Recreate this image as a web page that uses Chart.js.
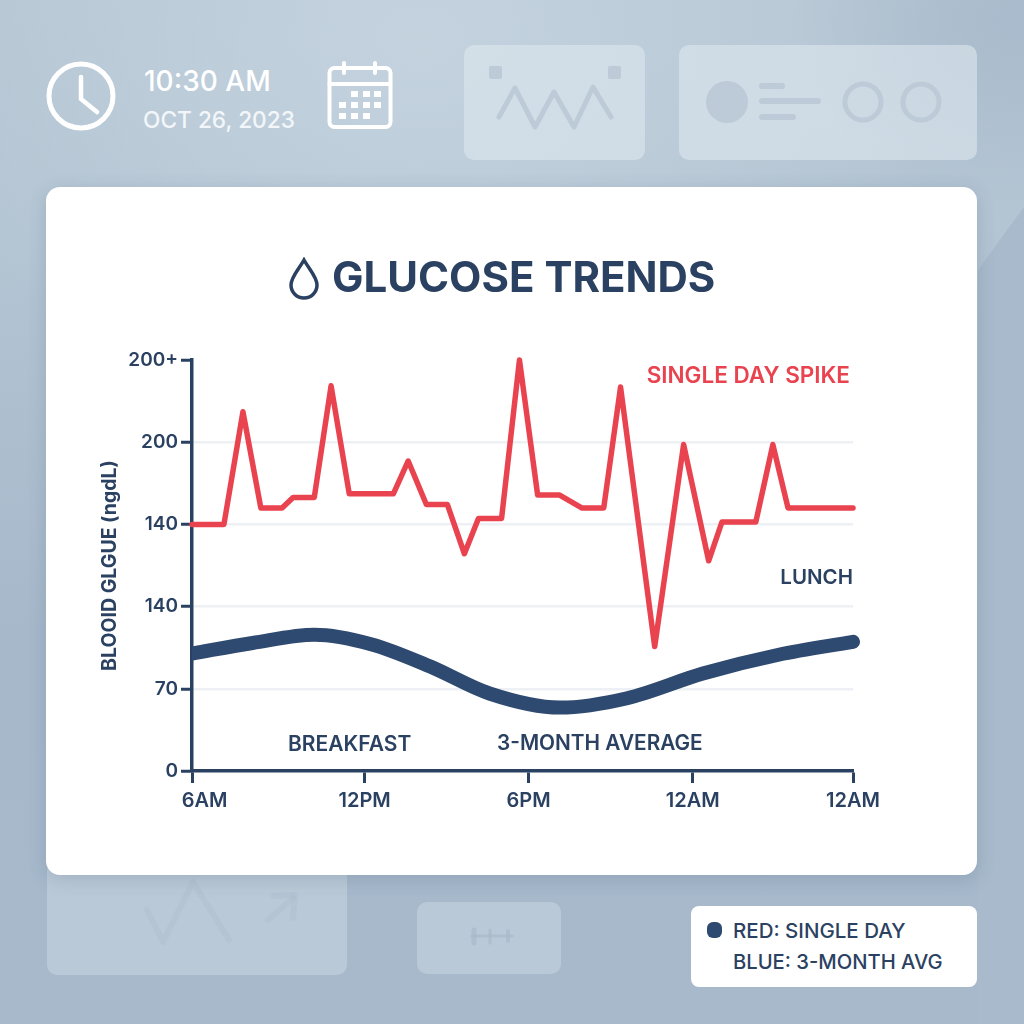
<!DOCTYPE html>
<html>
<head>
<meta charset="utf-8">
<title>Glucose Trends</title>
<script src="https://cdn.jsdelivr.net/npm/chart.js@4/dist/chart.umd.min.js"></script>
<style>
  html, body { margin: 0; padding: 0; }
  body {
    width: 1024px; height: 1024px; position: relative; overflow: hidden;
    font-family: Inter, "Noto Sans", sans-serif; color: #2b4162;
    background:
      radial-gradient(ellipse 230px 190px at 1024px 20px, rgba(166,184,202,.85), rgba(166,184,202,0)),
      radial-gradient(ellipse 520px 400px at 420px 40px, rgba(198,213,224,.85), rgba(198,213,224,0)),
      linear-gradient(180deg, #b6c6d4 0%, #b3c4d3 25%, #a6b8ca 62%, #a7b9cb 100%);
  }
  .abs { position: absolute; white-space: nowrap; }
  .panel { position: absolute; border-radius: 10px; }
  .top-panel { background: rgba(222,231,238,.6); }
  .low-panel { background: rgba(205,217,227,.5); }
  #card {
    position: absolute; left: 46px; top: 187px; width: 931px; height: 688px;
    background: #fff; border-radius: 14px; box-shadow: 0 4px 18px rgba(70,95,125,.22);
  }
  #chart { position: absolute; left: 0; top: 0; }
  .note { position: absolute; white-space: nowrap; font-weight: 600; line-height: 1; }
  #legend {
    position: absolute; left: 691px; top: 906px; width: 286px; height: 81px;
    background: #fff; border-radius: 8px;
  }
</style>
</head>
<body>
<svg class="abs" style="left:0;top:0" width="1024" height="1024">
  <polygon points="978,270 1024,207 1024,1024 978,1024" fill="#a8bacb"/>
</svg>

<!-- clock and date -->
<svg class="abs" style="left:44px;top:58px" width="76" height="76" fill="none" stroke="#fff" stroke-width="5" stroke-linecap="round">
  <circle cx="37" cy="38" r="32"/>
  <polyline points="37,19 37,41 53,54" stroke-width="4.5"/>
</svg>
<div class="abs" style="left:144px;top:64px;font-size:28px;font-weight:500;color:#fff">10:30 AM</div>
<div class="abs" style="left:143px;top:106px;font-size:22.700px;font-weight:500;color:#f3f6f9">OCT 26, 2023</div>
<svg class="abs" style="left:325px;top:60px" width="70" height="72" fill="none" stroke="#fff" stroke-width="4" stroke-linecap="round">
  <rect x="4.500" y="8" width="61" height="59" rx="5"/>
  <line x1="4.500" y1="24" x2="65" y2="24"/>
  <line x1="19" y1="3" x2="19" y2="13"/><line x1="50" y1="3" x2="50" y2="13"/>
  <g fill="#fff" stroke="none">
    <rect x="26" y="31" width="7" height="6"/><rect x="38" y="31" width="7" height="6"/><rect x="49" y="31" width="7" height="6"/>
    <rect x="14" y="42" width="7" height="6"/><rect x="26" y="42" width="7" height="6"/><rect x="38" y="42" width="7" height="6"/><rect x="49" y="42" width="7" height="6"/>
    <rect x="14" y="53" width="7" height="6"/><rect x="26" y="53" width="7" height="6"/><rect x="38" y="53" width="7" height="6"/>
  </g>
</svg>

<!-- faded panels behind the chart -->
<div class="panel top-panel" style="left:464px;top:45px;width:181px;height:115px"></div>
<div class="panel top-panel" style="left:679px;top:45px;width:298px;height:115px"></div>
<svg class="abs" style="left:0;top:0" width="1024" height="200" fill="none" stroke="#bccbd7" stroke-width="5" stroke-linecap="round" stroke-linejoin="round">
  <rect x="489" y="66" width="13" height="13" rx="2" fill="#bccbd7" stroke="none"/>
  <rect x="608" y="66" width="13" height="13" rx="2" fill="#bccbd7" stroke="none"/>
  <polyline points="499,117 515,88 535,127 554,92 574,127 593,87 611,117"/>
  <circle cx="727" cy="102" r="21" fill="#bccbd7" stroke="none"/>
  <line x1="762" y1="86" x2="782" y2="86" stroke-width="6"/>
  <line x1="762" y1="101" x2="818" y2="101" stroke-width="6"/>
  <line x1="762" y1="117" x2="793" y2="117" stroke-width="6"/>
  <circle cx="863" cy="102" r="18" stroke-width="5"/>
  <circle cx="921" cy="102" r="18" stroke-width="5"/>
</svg>
<div class="panel low-panel" style="left:47px;top:860px;width:300px;height:115px"></div>
<div class="panel low-panel" style="left:417px;top:902px;width:144px;height:72px"></div>
<svg class="abs" style="left:0;top:860px" width="1024" height="164" fill="none" stroke="#a6b8c9" stroke-width="6" stroke-linecap="round" stroke-linejoin="round">
  <polyline points="147,50 163,82 193,22 229,80" opacity="0.3"/>
  <polyline points="268,60 293,38" opacity="0.3"/>
  <polyline points="274,36 295,35 293,58" opacity="0.3"/>
  <line x1="472" y1="76" x2="512" y2="76" stroke-width="3" opacity="0.6"/>
  <line x1="474" y1="70" x2="474" y2="83" stroke-width="5" opacity="0.6"/>
  <line x1="490" y1="70" x2="490" y2="83" stroke-width="3" opacity="0.6"/>
  <line x1="508" y1="71" x2="508" y2="81" stroke-width="4" opacity="0.6"/>
</svg>

<div id="card">
  <canvas id="chart" width="931" height="688"></canvas>
  <svg class="abs" style="left:242px;top:70px" width="32" height="44" fill="none" stroke="#2b4162" stroke-width="3.500">
    <path d="M16 3 C 11 12, 3 20, 3 28 A 13 13 0 0 0 29 28 C 29 20, 21 12, 16 3 Z"/>
  </svg>
  <div class="note" id="title" style="left:286px;top:69px;font-size:42px;font-weight:700">GLUCOSE TRENDS</div>
  <div class="note" style="right:127px;top:177px;font-size:22.500px;color:#e9434f">SINGLE DAY SPIKE</div>
  <div class="note" style="right:124px;top:380px;font-size:20.500px">LUNCH</div>
  <div class="note" style="left:242px;top:546px;font-size:21px">BREAKFAST</div>
  <div class="note" style="left:451px;top:546px;font-size:20.800px">3-MONTH AVERAGE</div>
</div>

<div id="legend">
  <div class="abs" style="left:16px;top:16px;width:15px;height:16px;border-radius:6px;background:#2f4a70"></div>
</div>
<div class="note" id="legend1" style="left:733px;top:921px;font-size:20.500px;font-weight:500"></div>
<div class="note" id="legend2" style="left:733px;top:952px;font-size:20.200px;font-weight:500"></div>

<script>
// hours after 6AM on the x axis, values on the y axis (70 per labelled step)
var xTickHours = [0, 6.27, 12.22, 18.18, 24];
var xTickLabels = ['     6AM', '12PM', '6PM', '12AM', '12AM'];
var yTickLabels = ['0', '70', '140', '140', '200', '200+'];

var dayHours = [0, 1.16, 1.85, 2.5, 3.27, 3.67, 4.44, 5.05, 5.71, 7.31, 7.85, 8.51, 9.27, 9.89, 10.4,
  11.24, 11.89, 12.55, 13.35, 14.15, 14.95, 15.56, 16.8, 17.85, 18.76, 19.24, 20.47, 21.09, 21.64, 24];
var dayValues = [210, 210, 306, 224, 224, 233, 233, 328, 236, 236, 264, 227, 227, 185, 215,
  215, 350, 235, 235, 224, 224, 327, 106, 278, 179, 212, 212, 278, 224, 224];

var avgHours = [0, 2.2, 4.45, 6.5, 8.65, 10.8, 13.35, 15.8, 18.55, 21.3, 24];
var avgValues = [100, 109, 116, 108, 89, 66, 54, 62, 83, 99, 110];

var legendLabels = ['RED: SINGLE DAY', 'BLUE: 3-MONTH AVG'];

document.getElementById('legend1').textContent = legendLabels[0];
document.getElementById('legend2').textContent = legendLabels[1];

function toPoints(xs, ys) {
  return xs.map(function (x, i) { return { x: x, y: ys[i] }; });
}

var navy = '#2b4162';
var xTickFont = { family: 'Inter', size: 20, weight: '600' };
var yTickFont = { family: 'Inter', size: 19, weight: '600' };

new Chart(document.getElementById('chart'), {
  type: 'line',
  data: {
    datasets: [
      {
        label: 'Single day',
        data: toPoints(dayHours, dayValues),
        borderColor: '#e9434f',
        borderWidth: 5.5,
        borderJoinStyle: 'round',
        borderCapStyle: 'round',
        pointRadius: 0,
        tension: 0,
        clip: false
      },
      {
        label: '3-month average',
        data: toPoints(avgHours, avgValues),
        borderColor: '#2f4a70',
        borderWidth: 14,
        borderCapStyle: 'round',
        pointRadius: 0,
        cubicInterpolationMode: 'monotone',
        clip: { left: 0, top: false, right: false, bottom: false }
      }
    ]
  },
  options: {
    responsive: false,
    animation: false,
    layout: { padding: { left: 0, top: 173, right: 124, bottom: 0 } },
    plugins: { legend: { display: false }, tooltip: { enabled: false } },
    scales: {
      x: {
        type: 'linear',
        min: 0,
        max: 24,
        afterBuildTicks: function (axis) {
          axis.ticks = xTickHours.map(function (h) { return { value: h }; });
        },
        afterFit: function (axis) { axis.height = 104; },
        border: { color: navy, width: 3.5 },
        grid: { drawOnChartArea: false, color: navy, tickColor: navy, tickLength: 12, tickWidth: 3 },
        ticks: {
          color: navy,
          font: xTickFont,
          padding: 6,
          maxRotation: 0,
          autoSkip: false,
          callback: function (value, i) { return xTickLabels[i]; }
        }
      },
      y: {
        min: 0,
        max: 350,
        afterFit: function (axis) { axis.width = 146; },
        border: { color: navy, width: 3.5 },
        grid: {
          color: function (c) {
            return c.index === 0 || c.index === yTickLabels.length - 1 ? 'rgba(0,0,0,0)' : '#edf0f4';
          },
          lineWidth: 2.5,
          tickColor: navy,
          tickLength: 11,
          tickWidth: 3
        },
        ticks: {
          color: navy,
          font: yTickFont,
          padding: 3,
          stepSize: 70,
          callback: function (value) { return yTickLabels[value / 70]; }
        },
        title: {
          display: true,
          text: 'BLOOID GLGUE (ngdL)',
          color: navy,
          font: { family: 'Inter', size: 19.5, weight: '700' },
          padding: { top: 52, bottom: 0 }
        }
      }
    }
  }
});
</script>
</body>
</html>
